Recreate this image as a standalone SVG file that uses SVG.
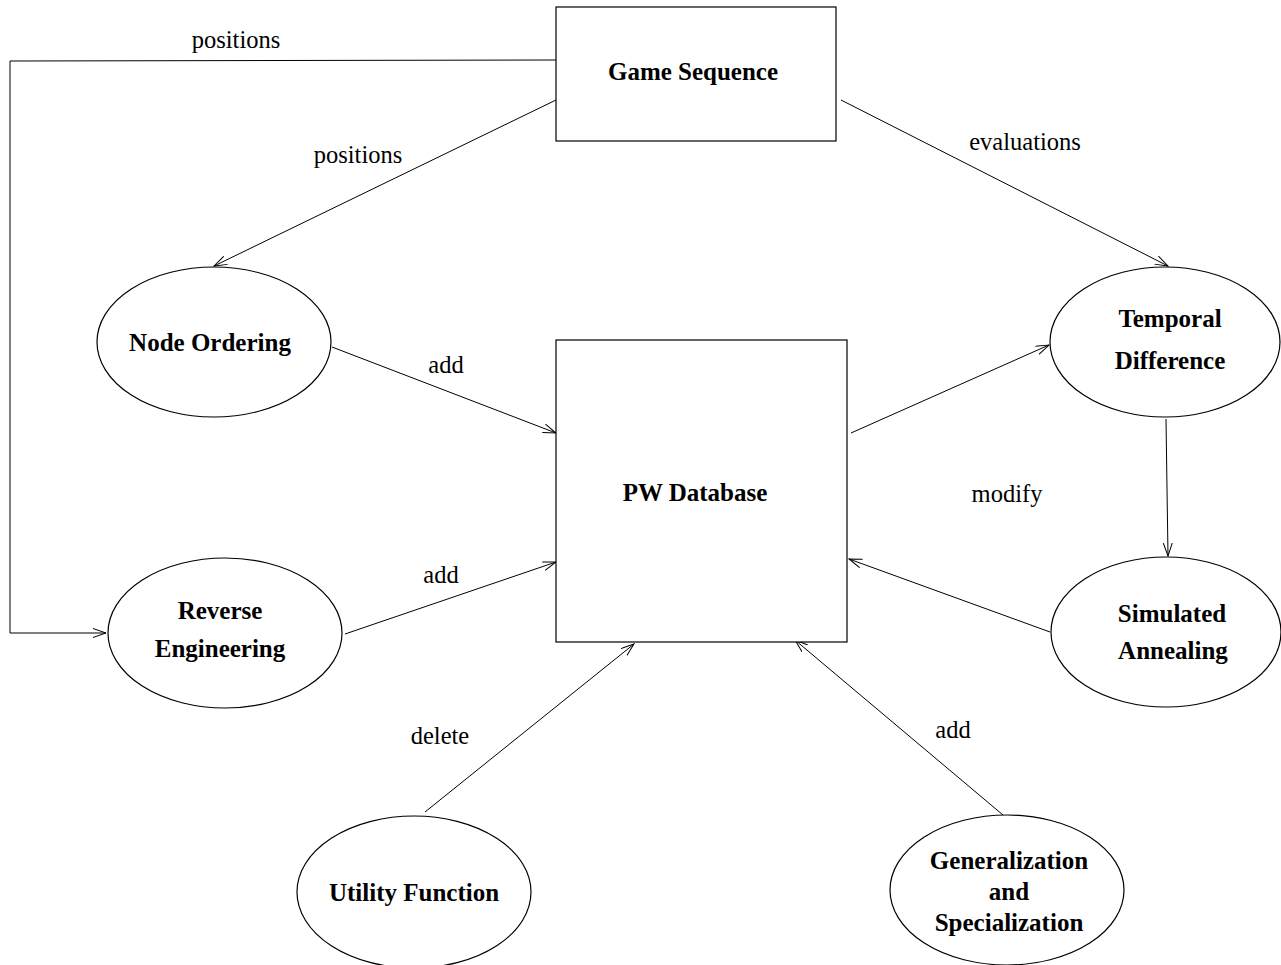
<svg xmlns="http://www.w3.org/2000/svg" width="1281" height="965" viewBox="0 0 1281 965">
<defs>
<marker id="arr" markerUnits="userSpaceOnUse" markerWidth="14" markerHeight="10" refX="13" refY="5" orient="auto">
<path d="M0,0.5 L13,5 L0,9.5" fill="none" stroke="#000" stroke-width="1"/>
</marker>
<style>
.box{fill:#fff;stroke:#000;stroke-width:1.2}
.ell{fill:#fff;stroke:#000;stroke-width:1.2}
.lbl{font-family:"Liberation Serif","Times New Roman",serif;font-size:25px;font-weight:bold;text-anchor:middle;fill:#000}
.elab{font-family:"Liberation Serif","Times New Roman",serif;font-size:24.5px;text-anchor:middle;fill:#000}
.con{fill:none;stroke:#000;stroke-width:1;marker-end:url(#arr)}
</style>
</defs>
<rect width="1281" height="965" fill="#fff"/>
<g id="connectors">
<polyline class="con" points="556,60 10,61 10,633 106,633"/>
<line class="con" x1="556" y1="100" x2="214" y2="266"/>
<line class="con" x1="841" y1="100" x2="1168" y2="266"/>
<line class="con" x1="332" y1="347" x2="556" y2="433"/>
<line class="con" x1="345" y1="634" x2="556" y2="562"/>
<line class="con" x1="851" y1="433" x2="1049" y2="345"/>
<line class="con" x1="1166" y1="419" x2="1168" y2="556"/>
<line class="con" x1="1050" y1="632" x2="849" y2="559"/>
<line class="con" x1="425" y1="812" x2="634" y2="644"/>
<line class="con" x1="1003" y1="815" x2="795" y2="640"/>
<text class="elab" x="236" y="48">positions</text>
<text class="elab" x="358" y="163">positions</text>
<text class="elab" x="1025" y="150">evaluations</text>
<text class="elab" x="446" y="373">add</text>
<text class="elab" x="441" y="583">add</text>
<text class="elab" x="1007" y="502">modify</text>
<text class="elab" x="440" y="744">delete</text>
<text class="elab" x="953" y="738">add</text>
</g>
<g id="game-sequence">
<rect class="box" x="556" y="7" width="280" height="134"/>
<text class="lbl" x="693" y="80">Game Sequence</text>
</g>
<g id="pw-database">
<rect class="box" x="556" y="340" width="291" height="302"/>
<text class="lbl" x="695" y="501">PW Database</text>
</g>
<g id="node-ordering">
<ellipse class="ell" cx="214" cy="342" rx="117" ry="75"/>
<text class="lbl" x="210" y="351">Node Ordering</text>
</g>
<g id="reverse-engineering">
<ellipse class="ell" cx="225" cy="633" rx="117" ry="75"/>
<text class="lbl" x="220" y="619">Reverse</text>
<text class="lbl" x="220" y="657">Engineering</text>
</g>
<g id="temporal-difference">
<ellipse class="ell" cx="1165" cy="342" rx="115" ry="75"/>
<text class="lbl" x="1170" y="327">Temporal</text>
<text class="lbl" x="1170" y="369">Difference</text>
</g>
<g id="simulated-annealing">
<ellipse class="ell" cx="1166" cy="632" rx="115" ry="75"/>
<text class="lbl" x="1172" y="622">Simulated</text>
<text class="lbl" x="1173" y="659">Annealing</text>
</g>
<g id="utility-function">
<ellipse class="ell" cx="414" cy="892" rx="117" ry="76"/>
<text class="lbl" x="414" y="901">Utility Function</text>
</g>
<g id="generalization-specialization">
<ellipse class="ell" cx="1007" cy="890" rx="117" ry="75"/>
<text class="lbl" x="1009" y="869">Generalization</text>
<text class="lbl" x="1009" y="900">and</text>
<text class="lbl" x="1009" y="931">Specialization</text>
</g>
</svg>
